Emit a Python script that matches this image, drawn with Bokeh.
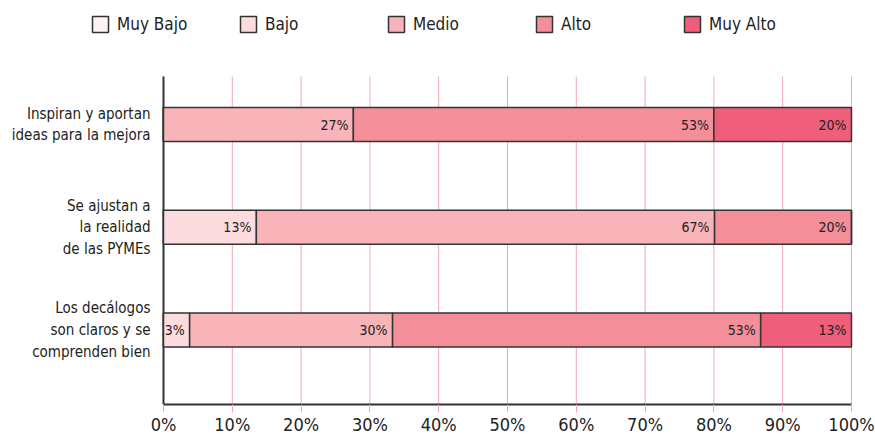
import numpy as np
from bokeh.plotting import figure
from bokeh.models import Range1d, Legend, LegendItem, ColumnDataSource, FixedTicker
from bokeh.core.properties import value
from bokeh.embed import file_html
from bokeh.resources import INLINE

FONT = "DejaVu Sans Condensed"

categories = ["Inspiran y aportan\nideas para la mejora",
              "Se ajustan a\nla realidad\nde las PYMEs",
              "Los decálogos\nson claros y se\ncomprenden bien"]
series = ["Muy Bajo", "Bajo", "Medio", "Alto", "Muy Alto"]
muy_bajo = [0.0, 0.0, 0.0]
bajo = [0.0, 13.5, 3.8]
medio = [27.6, 66.6, 29.5]
alto = [52.4, 19.9, 53.5]
muy_alto = [20.0, 0.0, 13.2]
labels_muy_bajo = ["", "", ""]
labels_bajo = ["", "13%", "3%"]
labels_medio = ["27%", "67%", "30%"]
labels_alto = ["53%", "20%", "53%"]
labels_muy_alto = ["20%", "", "13%"]
colors = ["#FFF3F2", "#FDDCDF", "#F8B4B8", "#F48F9A", "#EF5E7A"]
x_ticks = [0, 10, 20, 30, 40, 50, 60, 70, 80, 90, 100]
x_tick_labels = [f"{t}%" for t in x_ticks]

# layout constants (plot-area extent in data units)
X_START, X_END = -23.69, 100.73
Y_BOTTOM, Y_TOP_FRAME = 2.725, -1.207
Y_TOP_AXIS = -0.467

values = [muy_bajo, bajo, medio, alto, muy_alto]
labels = [labels_muy_bajo, labels_bajo, labels_medio, labels_alto, labels_muy_alto]
ypos = list(range(len(categories)))

GRID = "#F4A8B3"
DARK = "#333333"
TXT = "#222222"

p = figure(frame_width=856, frame_height=404, output_backend="svg", toolbar_location=None,
           x_range=Range1d(X_START, X_END), y_range=Range1d(Y_BOTTOM, Y_TOP_FRAME),
           y_axis_location=None, min_border_left=0, min_border_top=0,
           min_border_right=19, min_border_bottom=0)
p.outline_line_color = None
p.background_fill_color = "white"
p.xgrid.grid_line_color = None
p.ygrid.grid_line_color = None

# vertical grid lines limited to the plotting area
p.segment(x0=x_ticks, x1=x_ticks, y0=[Y_BOTTOM] * len(x_ticks), y1=[Y_TOP_AXIS] * len(x_ticks),
          line_color=GRID, line_width=1, level="underlay")

p.xaxis.ticker = FixedTicker(ticks=x_ticks)
p.xaxis.bounds = (x_ticks[0], x_ticks[-1])
p.xaxis.major_label_overrides = {t: l for t, l in zip(x_ticks, x_tick_labels)}
p.xaxis.major_tick_line_color = GRID
p.xaxis.major_tick_in = 0
p.xaxis.major_tick_out = 8
p.xaxis.minor_tick_line_color = None
p.xaxis.axis_line_color = DARK
p.xaxis.axis_line_width = 2
p.xaxis.major_label_text_font = FONT
p.xaxis.major_label_text_font_size = "18px"
p.xaxis.major_label_text_color = TXT
p.xaxis.major_label_standoff = 1

# category axis line and labels
p.segment(x0=[x_ticks[0]], x1=[x_ticks[0]], y0=[Y_BOTTOM], y1=[Y_TOP_AXIS],
          line_color=DARK, line_width=2)
p.text(x=[x_ticks[0]] * len(categories), y=ypos, text=categories, x_offset=-13,
       text_align="right", text_baseline="middle", text_font=value(FONT),
       text_font_size="15px", text_color=TXT, text_line_height=1.2)

left = np.zeros(len(categories))
items = []
for name, vals, labs, col in zip(series, values, labels, colors):
    vals = np.array(vals)
    right = left + vals
    src = ColumnDataSource(dict(y=ypos, left=left, right=right, lab=labs))
    r = p.hbar(y="y", left="left", right="right", height=0.331, source=src,
               fill_color=col, line_color=DARK, line_width=1.5)
    p.text(x="right", y="y", text="lab", source=src, x_offset=-5,
           text_align="right", text_baseline="middle", text_font=value(FONT),
           text_font_size="14px", text_color=TXT)
    items.append(LegendItem(label=name, renderers=[r]))
    left = right

legend = Legend(items=items, orientation="horizontal", location=(90, 370),
                glyph_width=20, glyph_height=20, label_standoff=7, label_width=102,
                spacing=19, padding=0, margin=0, border_line_color=None,
                background_fill_alpha=0, label_text_font=FONT,
                label_text_font_size="17px", label_text_color=TXT)
p.add_layout(legend, "center")

open("out.html", "w").write(file_html(p, INLINE))
